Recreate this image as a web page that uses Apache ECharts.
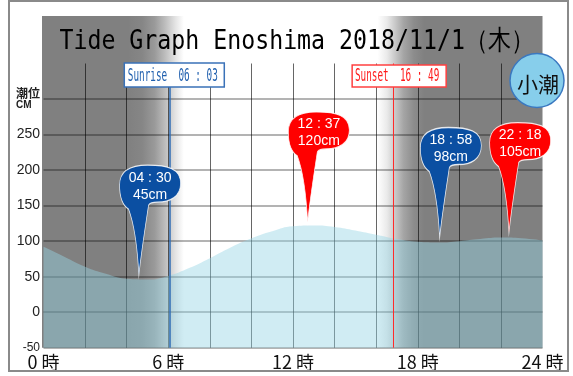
<!DOCTYPE html>
<html>
<head>
<meta charset="utf-8">
<title>Tide Graph Enoshima</title>
<script src="https://cdn.jsdelivr.net/npm/echarts@6/dist/echarts.min.js"></script>
</head>
<body style="margin:0">
<div id="chart" style="width:573px;height:376px;"></div>
<script>
// hourly tide level (cm)
const hours = [0, 1, 2, 3, 4, 5, 6, 7, 8, 9, 10, 11, 12, 13, 14, 15, 16, 17, 18, 19, 20, 21, 22, 23, 24];
const tide = [92, 78, 64, 54, 47, 46, 51, 62, 76, 91, 104, 114, 121, 122, 120, 115, 109, 103, 99, 98, 100, 103, 105, 104, 101];
// high / low tides
const extremeTimes = ['04:30', '12:37', '18:58', '22:18'];
const extremeLevels = [45, 120, 98, 105];
const extremeKinds = ['low', 'high', 'low', 'high'];
const sunrise = '06:03';
const sunset = '16:49';
const tideName = '小潮';
const titleText = 'Tide Graph Enoshima 2018/11/1（木）';

const toHour = t => { const p = t.split(':'); return +p[0] + p[1] / 60; };
const srH = toHour(sunrise), ssH = toHour(sunset);

// balloon: body on top, tail tip at the bottom (61 x 110)
const PIN = 'M19.3 110C18 85 15 60 9 44C3 40 0 32 0 20C0 6 10 0 28 0C48 0 61 3 61 18C61 32 50 37 38 37C33 37 30 38 29 40C26 60 22 85 19.3 110Z';

const chart = echarts.init(document.getElementById('chart'));

chart.setOption({
  backgroundColor: '#fff',
  animation: false,
  grid: { left: 43.5, right: 30.5, top: 63.5, bottom: 28.3 },
  xAxis: {
    type: 'value', min: 0, max: 24, interval: 2,
    axisLine: { show: false }, axisTick: { show: false },
    axisLabel: {
      margin: 5, fontSize: 18, color: '#111', fontFamily: '"Noto Sans CJK JP"',
      formatter: v => v % 6 === 0 ? v + ' 時' : ''
    },
    splitLine: { showMinLine: false, showMaxLine: false, lineStyle: { color: 'rgba(0,0,0,0.6)', width: 1 } }
  },
  yAxis: {
    type: 'value', min: -50, max: 350, interval: 50,
    axisLine: { show: false }, axisTick: { show: false },
    axisLabel: {
      margin: 3.5, fontSize: 14, color: '#222', fontFamily: '"Liberation Sans"',
      showMaxLabel: false,
      formatter: v => v === 300 ? '{u|潮位}\n{c|CM}' : (v === -50 ? '{s|-50}' : String(v)),
      rich: {
        u: { fontSize: 12, fontWeight: 'bold', fontFamily: '"Noto Sans CJK JP"', lineHeight: 13, color: '#222' },
        c: { fontSize: 10, fontWeight: 'bold', lineHeight: 11, color: '#222', align: 'left' },
        s: { fontSize: 12, color: '#222' }
      }
    },
    splitLine: { showMaxLine: false, lineStyle: { color: 'rgba(0,0,0,0.4)', width: 1.5 } }
  },
  series: [{
    type: 'line',
    smooth: true,
    symbol: 'none',
    data: hours.map((h, i) => [h, tide[i]]),
    lineStyle: { opacity: 0 },
    areaStyle: { color: 'rgba(150,212,228,0.64)', origin: 'start' },
    markLine: {
      silent: true, symbol: ['none', 'none'], label: { show: false },
      data: [
        { xAxis: srH, lineStyle: { color: '#2f6db5', width: 1.5, type: 'solid' } },
        { xAxis: ssH, lineStyle: { color: '#ff2a2a', width: 1, type: 'solid' } }
      ]
    },
    markPoint: {
      silent: true,
      symbol: 'path://' + PIN,
      symbolSize: [61, 110],
      symbolOffset: [13, -60],
      itemStyle: { borderColor: 'rgba(255,255,255,0.85)', borderWidth: 1 },
      label: {
        show: true, position: 'inside', offset: [0, -34],
        color: '#fff', fontSize: 14, lineHeight: 17, fontFamily: '"Liberation Sans"',
        formatter: p => p.name
      },
      data: extremeTimes.map((t, i) => ({
        name: t.replace(':', ' : ') + '\n' + extremeLevels[i] + 'cm',
        coord: [toHour(t), extremeLevels[i]],
        itemStyle: { color: extremeKinds[i] === 'low' ? '#0b4fa2' : '#ff0000' }
      }))
    }
  }]
});

// decorations placed from the axes
const px = (h, v) => chart.convertToPixel({ gridIndex: 0 }, [h, v]);
const x0 = px(0, 0)[0] - 1.5, x24 = px(24, 0)[0], yBot = px(0, -50)[1];
const bgW = x24 - x0;
const off = h => Math.min(1, Math.max(0, (px(h, 0)[0] - x0) / bgW));
const shade = [
  [srH - 2.0, '#808080'], [srH - 1.3, '#868686'], [srH - 0.7, '#9a9a9a'], [srH - 0.2, '#bdbdbd'],
  [srH + 0.3, '#e4e4e4'], [srH + 0.7, '#ffffff'],
  [ssH - 0.75, '#ffffff'], [ssH - 0.3, '#eaeaea'], [ssH + 0.1, '#c8c8c8'], [ssH + 0.5, '#a5a5a5'],
  [ssH + 1.0, '#8c8c8c'], [ssH + 1.5, '#808080']
];
const srX = px(srH, 0)[0], ssX = px(ssH, 0)[0];

chart.setOption({
  graphic: [
    {
      type: 'rect', z: -10, silent: true,
      shape: { x: x0, y: 16, width: bgW, height: yBot - 16 },
      style: {
        fill: new echarts.graphic.LinearGradient(0, 0, 1, 0,
          shade.map(s => ({ offset: off(s[0]), color: s[1] })))
      }
    },
    {
      type: 'rect', z: 20, silent: true,
      shape: { x: 9, y: 1, width: 559, height: 370 },
      style: { fill: 'none', stroke: '#8a8a8a', lineWidth: 2 }
    },
    {
      type: 'text', z: 20, x: 297, y: 42, scaleX: 0.86,
      style: {
        text: titleText, font: '27px "DejaVu Sans Mono"', fill: '#000',
        align: 'center', verticalAlign: 'middle', textAlign: 'center', textVerticalAlign: 'middle'
      }
    },
    {
      type: 'rect', z: 20, silent: true,
      shape: { x: srX - 45, y: 63, width: 100, height: 24 },
      style: { fill: '#fff', stroke: '#3a72b8', lineWidth: 1.5 }
    },
    {
      type: 'text', z: 21, x: srX + 3.5, y: 77, scaleX: 0.55,
      style: {
        text: 'Sunrise  ' + sunrise.replace(':', ' : '), font: '17px "DejaVu Sans Mono"', fill: '#1f5fae',
        align: 'center', verticalAlign: 'middle', textAlign: 'center', textVerticalAlign: 'middle'
      }
    },
    {
      type: 'rect', z: 20, silent: true,
      shape: { x: ssX - 41, y: 65, width: 94, height: 22 },
      style: { fill: '#fff', stroke: '#ff4040', lineWidth: 1.5 }
    },
    {
      type: 'text', z: 21, x: ssX + 4, y: 77, scaleX: 0.55,
      style: {
        text: 'Sunset  ' + sunset.replace(':', ' : '), font: '17px "DejaVu Sans Mono"', fill: '#ff1a1a',
        align: 'center', verticalAlign: 'middle', textAlign: 'center', textVerticalAlign: 'middle'
      }
    },
    {
      type: 'circle', z: 20, silent: true,
      shape: { cx: 537, cy: 80.5, r: 27 },
      style: { fill: '#87ceeb', stroke: '#3a78c0', lineWidth: 1.5 }
    },
    {
      type: 'text', z: 21, x: 538, y: 84,
      style: {
        text: tideName, font: '21px "Noto Sans CJK JP"', fill: '#111',
        align: 'center', verticalAlign: 'middle', textAlign: 'center', textVerticalAlign: 'middle'
      }
    }
  ]
});
</script>
</body>
</html>
